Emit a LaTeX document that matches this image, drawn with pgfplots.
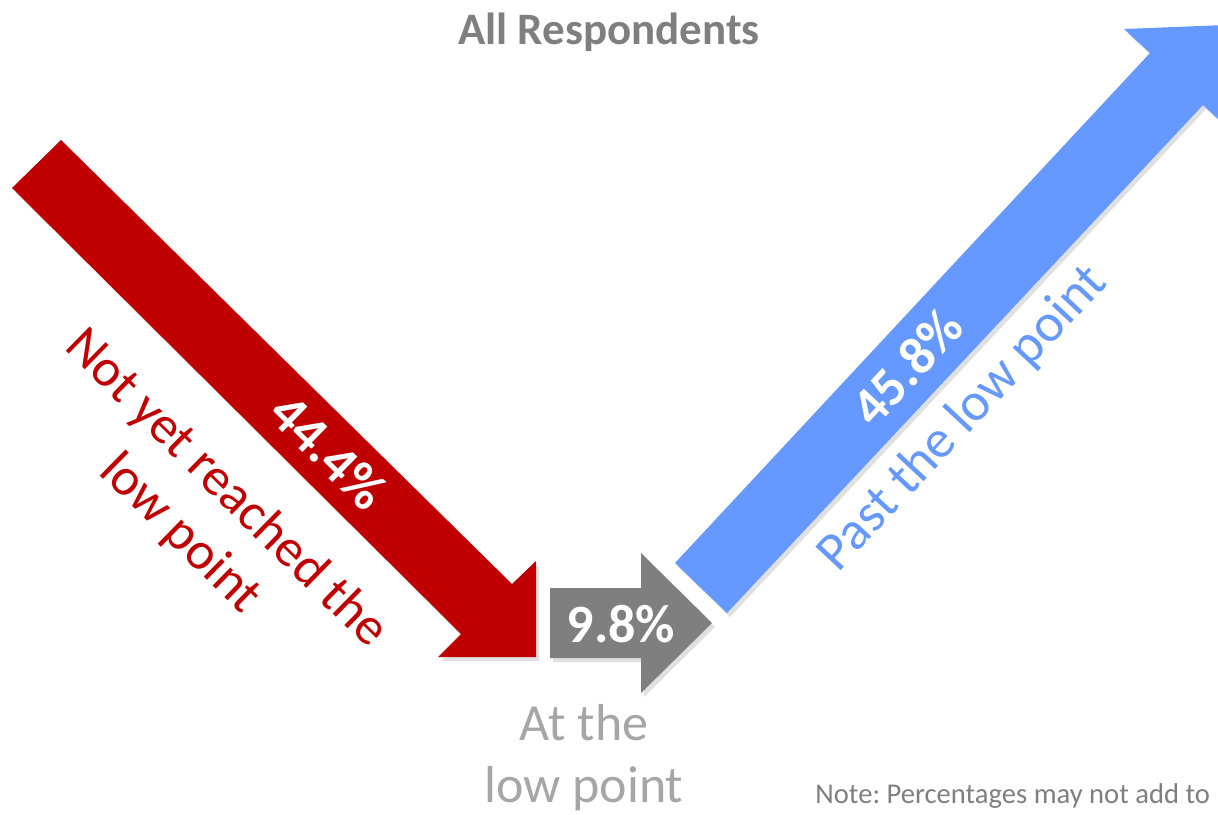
\documentclass[border=0pt]{standalone}
\usepackage{pgfplots}
\pgfplotsset{compat=1.18}
\usepackage{fontspec}
\setmainfont{Carlito}
\frenchspacing

\definecolor{downred}{HTML}{C00000}
\definecolor{atgrey}{HTML}{7F7F7F}
\definecolor{upblue}{HTML}{6699FF}
\definecolor{lightgrey}{HTML}{A6A6A6}

% 1 px of the reference = 0.5pt
\newcommand{\fs}[1]{\fontsize{#1}{1.2\dimexpr#1\relax}\selectfont}

\begin{document}
\begin{tikzpicture}
\useasboundingbox (0,0) rectangle (609pt,407pt);
\begin{axis}[
    at={(0,0)}, anchor=south west,
    scale only axis, width=609pt, height=407pt,
    xmin=0, xmax=1218, ymin=0, ymax=814,
    y dir=reverse,
    hide axis,
    clip=true,
]
% shadows
\addplot[fill=black, fill opacity=0.12, draw=none, mark=none] coordinates {
    (64,144) (515,588) (539,565) (539,661) (441,661) (464,638) (15,192)};
\addplot[fill=black, fill opacity=0.12, draw=none, mark=none] coordinates {
    (553,592) (644,592) (644,557) (715,627) (644,697) (644,662) (553,662)};
\addplot[fill=black, fill opacity=0.12, draw=none, mark=none] coordinates {
    (678,567) (1153,57) (1127,33) (1229,29) (1232,133) (1206,109) (730,617)};

% not yet reached the low point: 44.4
\addplot[fill=downred, draw=none, mark=none] coordinates {
    (61,140) (512,584) (536,561) (536,657) (438,657) (461,634) (12,188)};
% at the low point: 9.8
\addplot[fill=atgrey, draw=none, mark=none] coordinates {
    (550,588) (641,588) (641,553) (712,623) (641,693) (641,658) (550,658)};
% past the low point: 45.8
\addplot[fill=upblue, draw=none, mark=none] coordinates {
    (675,563) (1150,53) (1124,29) (1226,25) (1229,129) (1203,105) (727,613)};

\node[text=atgrey, font=\fs{22.5pt}\bfseries] at (axis cs:609,32) {All Respondents};

\node[text=white, font=\fs{27.5pt}\bfseries, rotate=-44.5] at (axis cs:329,452) {44.4\%};
\node[text=white, font=\fs{27pt}\bfseries] at (axis cs:621,624) {9.8\%};
\node[text=white, font=\fs{27pt}\bfseries, rotate=47] at (axis cs:907,367) {45.8\%};

\node[text=downred, font=\fs{26.5pt}, rotate=-44.5] at (axis cs:226,489) {Not yet reached the};
\node[text=downred, font=\fs{26.5pt}, rotate=-44.5] at (axis cs:180,534) {low point};
\node[text=upblue, font=\fs{27pt}, rotate=47] at (axis cs:963,419) {Past the low point};

\node[text=lightgrey, font=\fs{26pt}, anchor=base] at (axis cs:584,740) {At the};
\node[text=lightgrey, font=\fs{26pt}, anchor=base] at (axis cs:584,802) {low point};

\node[text=atgrey, font=\fs{14.3pt}, anchor=base west, inner sep=0pt] at (axis cs:815,803) {Note: Percentages may not add to};
\end{axis}
\end{tikzpicture}
\end{document}
